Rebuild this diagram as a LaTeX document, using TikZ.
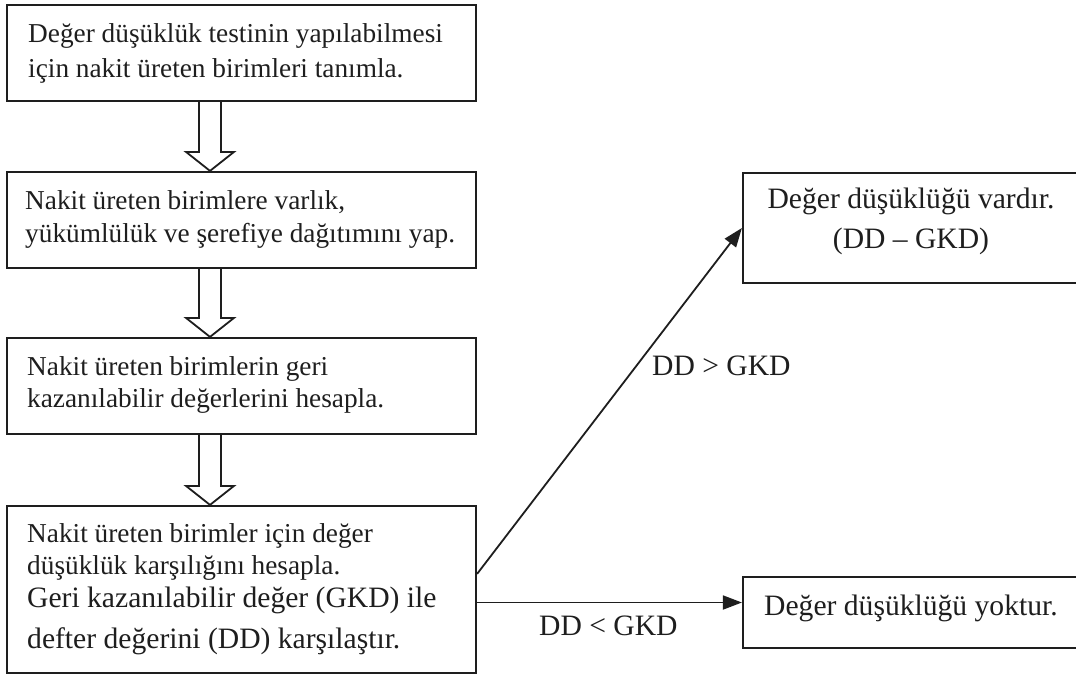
\documentclass[tikz,border=0pt]{standalone}
\usepackage{fontspec}
\setmainfont{Liberation Serif}
\usetikzlibrary{arrows.meta,calc}
\definecolor{ink}{HTML}{1E1E1E}
\begin{document}
\begin{tikzpicture}[x=1pt,y=-1pt,
  box/.style={draw=ink,line width=2.2pt,inner sep=0pt,rectangle},
  txt/.style={anchor=base west,inner sep=0pt,text=ink,font=\fontsize{27.3pt}{30pt}\selectfont},
  big/.style={anchor=base west,inner sep=0pt,text=ink,font=\fontsize{29.6pt}{32pt}\selectfont},
  conn/.style={draw=ink,line width=1.8pt,-{Triangle[length=19pt,width=14pt]}},
  hollow/.style={draw=ink,line width=1.8pt,line join=miter}]
\useasboundingbox[fill=white] (0,0) rectangle (1076,675);
\clip (0,0) rectangle (1076,675);
% left boxes
\node[box,minimum width=469pt,minimum height=96pt] (b1) at (241.5,53) {};
\node[box,minimum width=469pt,minimum height=96pt] (b2) at (241.5,220) {};
\node[box,minimum width=469pt,minimum height=96pt] (b3) at (241.5,386) {};
\node[box,minimum width=469pt,minimum height=167pt] (b4) at (241.5,589.5) {};
% right boxes
\node[box,minimum width=342pt,minimum height=110pt] (r1) at (914,228) {};
\node[box,minimum width=342pt,minimum height=71pt] (r2) at (914,612.5) {};
% texts
\node[txt] (t1a) at (28,42) {Değer düşüklük testinin yapılabilmesi};
\node[txt] (t1b) at (28,77) {için nakit üreten birimleri tanımla.};
\node[txt] (t2a) at (25,209) {Nakit üreten birimlere varlık,};
\node[txt] (t2b) at (25,242) {yükümlülük ve şerefiye dağıtımını yap.};
\node[txt] (t3a) at (27,375) {Nakit üreten birimlerin geri};
\node[txt] (t3b) at (27,407) {kazanılabilir değerlerini hesapla.};
\node[txt] (t4a) at (27,542) {Nakit üreten birimler için değer};
\node[txt] (t4b) at (27,574) {düşüklük karşılığını hesapla.};
\node[big] (t4c) at (27,607) {Geri kazanılabilir değer (GKD) ile};
\node[big] (t4d) at (27,648) {defter değerini (DD) karşılaştır.};
\node[big,anchor=base] (r1a) at (911,208) {Değer düşüklüğü vardır.};
\node[big,anchor=base] (r1b) at (911,248) {(DD – GKD)};
\node[big] (r2a) at (764,615) {Değer düşüklüğü yoktur.};
% hollow arrows
\coordinate (axis) at (210,0);
\foreach \ua/\ub in {b1/b2,b2/b3,b3/b4}{
  \draw[hollow] let \p1=(\ua.south -| axis), \p2=(\ub.north -| axis) in
    (\x1-11pt,\y1) -- (\x1-11pt,\y2+19pt) -- (\x1-24pt,\y2+19pt) -- (\p2)
    -- (\x1+24pt,\y2+19pt) -- (\x1+11pt,\y2+19pt) -- (\x1+11pt,\y1);
}
% decision arrows
\draw[conn] ($(b4.north east)+(0,69)$) -- (r1.west);
\coordinate (hy) at ($(r2.west)+(0,-10)$);
\draw[conn] (b4.east |- hy) -- (hy);
\node[big] (lg) at (652,375) {DD > GKD};
\node[big] (ll) at (539,635) {DD < GKD};
\end{tikzpicture}
\end{document}
